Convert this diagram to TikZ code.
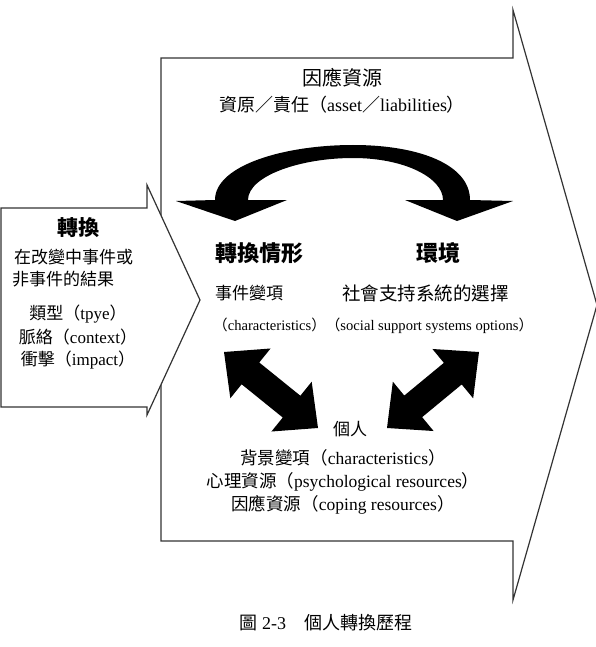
\documentclass[tikz,border=0pt]{standalone}
\usepackage{fontspec}
\setmainfont{Liberation Serif}
\newfontfamily\cjk{Noto Sans CJK TC}
\usetikzlibrary{calc}
\newcommand\zh[1]{{\cjk #1}}
% filled double-headed block arrow between two named points
\newcommand\dblarr[2]{%
  \fill (#1) -- ($(#1)!34pt!(#2)!32pt!90:(#2)$) -- ($(#1)!34pt!(#2)!14pt!90:(#2)$)
    -- ($(#2)!34pt!(#1)!14pt!-90:(#1)$) -- ($(#2)!34pt!(#1)!32pt!-90:(#1)$) -- (#2)
    -- ($(#2)!34pt!(#1)!32pt!90:(#1)$) -- ($(#2)!34pt!(#1)!14pt!90:(#1)$)
    -- ($(#1)!34pt!(#2)!14pt!-90:(#2)$) -- ($(#1)!34pt!(#2)!32pt!-90:(#2)$) -- cycle;}

\begin{document}
\begin{tikzpicture}[x=1pt, y=-1pt,
  outline/.style={draw=black!80, line width=1.2pt, fill=white},
  t/.style={inner sep=0pt, font=\fontsize{17}{17}\selectfont},
  sm/.style={inner sep=0pt, font=\fontsize{14.6}{14.6}\selectfont},
  hd/.style={inner sep=0pt, font=\fontsize{22}{22}\selectfont\cjk\bfseries}]
\useasboundingbox (0,0) rectangle (596,647);
% block arrows
\draw[outline] (161,58) -- (513,58) -- (513,10) -- (597,305) -- (513,600) -- (513,541) -- (161,541) -- cycle;
\draw[outline] (1,208) -- (147,208) -- (147,185) -- (200,300) -- (147,415) -- (147,407) -- (1,407) -- cycle;
% top
\node[t, font=\fontsize{20}{20}\selectfont\cjk] (cope) at (342,78) {因應資源};
\node[t, font=\fontsize{18}{18}\selectfont] (asset) at (342,105) {\zh{資原／責任（}asset\zh{／}liabilities\zh{）}};
% curved arrow
\fill (176,201) -- (215,200) .. controls (215,165) and (285,145) .. (353,145)
  .. controls (420,145) and (470,165) .. (470,200) -- (513,201) -- (457,221) -- (405,200) -- (443,200)
  .. controls (443,178) and (405,158) .. (353,158) .. controls (300,158) and (248,176) .. (248,200)
  -- (287,200) -- (235,221) -- cycle;
% middle row
\node[hd, anchor=west] (trans) at (215,253) {轉換情形};
\node[hd] (env) at (438,253) {環境};
\node[t, anchor=west] (event) at (215,293) {\zh{事件變項}};
\node[t, anchor=west, font=\fontsize{18.5}{18.5}\selectfont] (social) at (342,293) {\zh{社會支持系統的選擇}};
\node[sm, anchor=west] (charac) at (213,326) {\zh{（}characteristics\zh{）（}social support systems options\zh{）}};
% double arrows
\coordinate (dl1) at (224,352); \coordinate (dl2) at (318,428);
\coordinate (dr1) at (479,352); \coordinate (dr2) at (387,428);
\dblarr{dl1}{dl2}
\dblarr{dr1}{dr2}
% self
\node[t] (self) at (350,429) {\zh{個人}};
\node[t, font=\fontsize{17.5}{17.5}\selectfont] (bg) at (343,458) {\zh{背景變項（}characteristics\zh{）}};
\node[t, font=\fontsize{17.5}{17.5}\selectfont] (psy) at (343,482) {\zh{心理資源（}psychological resources\zh{）}};
\node[t, font=\fontsize{17.5}{17.5}\selectfont] (coping) at (343,505) {\zh{因應資源（}coping resources\zh{）}};
% left arrow text
\node[hd, font=\fontsize{21}{21}\selectfont\cjk\bfseries] (tr) at (78,228) {轉換};
\node[t, anchor=west] (l1) at (14,257) {\zh{在改變中事件或}};
\node[t, anchor=west] (l2) at (12,279) {\zh{非事件的結果}};
\node[t] (type) at (78,314) {\zh{類型（}tpye\zh{）}};
\node[t] (ctx) at (78,337) {\zh{脈絡（}context\zh{）}};
\node[t] (imp) at (78,360) {\zh{衝擊（}impact\zh{）}};
% caption
\node[t, font=\fontsize{18}{18}\selectfont] (cap) at (326,623) {\zh{圖 }2-3\zh{　個人轉換歷程}};
\end{tikzpicture}
\end{document}
